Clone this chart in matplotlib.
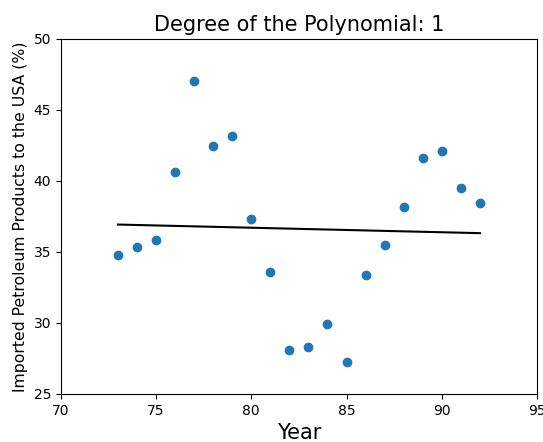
import numpy as np
import matplotlib
matplotlib.use("Agg")
import matplotlib.pyplot as plt

# Data
years = np.array([73, 74, 75, 76, 77, 78, 79, 80, 81, 82,
                  83, 84, 85, 86, 87, 88, 89, 90, 91, 92])
imports = np.array([34.8, 35.35, 35.8, 40.65, 47.0, 42.45, 43.15, 37.3, 33.6, 28.1,
                    28.3, 29.95, 27.25, 33.4, 35.5, 38.15, 41.6, 42.1, 39.5, 38.45])
DEGREE = 1

# Polynomial fit
coefs = np.polyfit(years, imports, DEGREE)
fit = np.polyval(coefs, years)

fig = plt.figure(figsize=(5.43, 4.42), dpi=100)
ax = fig.add_axes([0.112, 0.109, 0.877, 0.803])
ax.scatter(years, imports, color='#1f77b4', s=36)
ax.plot(years, fit, color='black', linewidth=1.5)

ax.set_xlim(70, 95)
ax.set_ylim(25, 50)
ax.set_title("Degree of the Polynomial: %d" % DEGREE, fontsize=15)
ax.set_xlabel("Year", fontsize=15)
ax.set_ylabel("Imported Petroleum Products to the USA (%)", fontsize=11.3)

fig.savefig("out.png", dpi=100)
